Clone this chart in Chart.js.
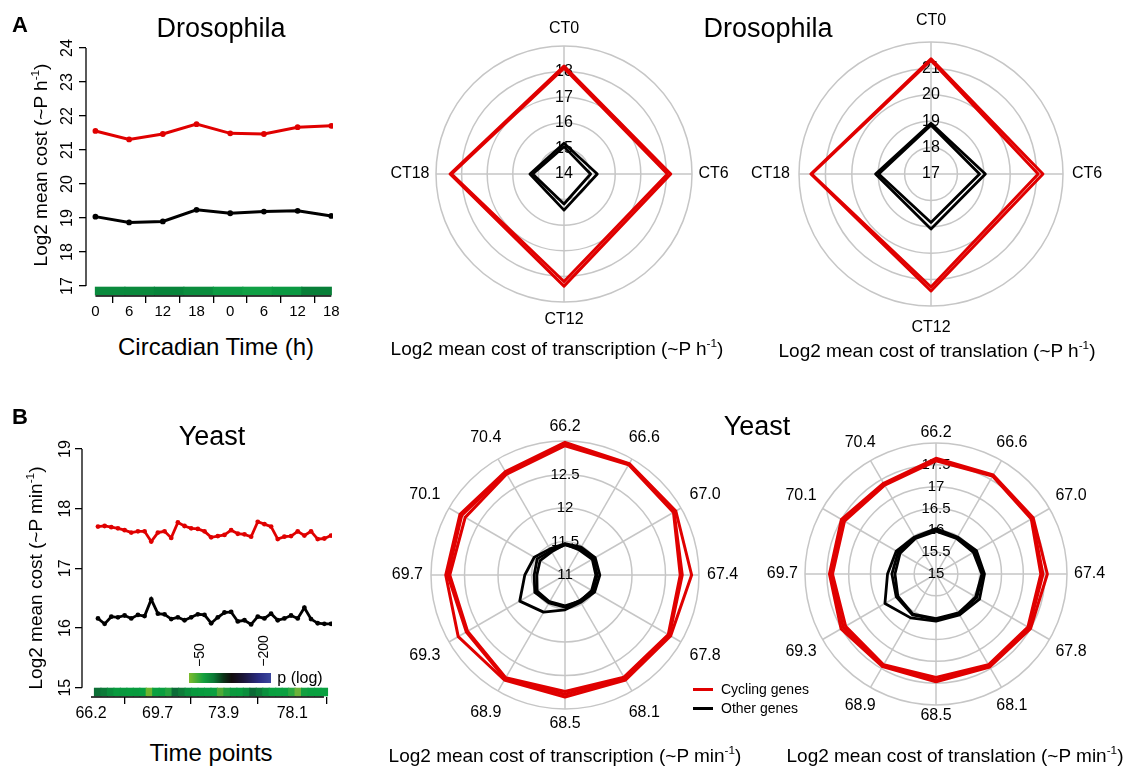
<!DOCTYPE html>
<html>
<head>
<meta charset="utf-8">
<script src="https://cdn.jsdelivr.net/npm/chart.js@4.4.1/dist/chart.umd.min.js"></script>
<style>
  html, body { margin: 0; padding: 0; background: #fff; }
  #page { position: relative; width: 1127px; height: 766px; overflow: hidden; background: #fff;
          font-family: "Liberation Sans", Arial, Helvetica, sans-serif; color: #000; }
  canvas { position: absolute; }
  .t { position: absolute; line-height: 1; white-space: nowrap; transform: translate(-50%, -50%); }
  .tl { position: absolute; line-height: 1; white-space: nowrap; transform: translate(0, -50%); }
  .rot { transform: translate(-50%, -50%) rotate(-90deg); }
  sup { font-size: 0.62em; vertical-align: 0.6em; line-height: 0; }
</style>
</head>
<body>
<div id="page">
  <div class="t" style="left:20px;top:25px;font-size:22px;font-weight:bold">A</div>
  <div class="t" style="left:221px;top:28px;font-size:27px">Drosophila</div>
  <div class="t" style="left:768px;top:28px;font-size:27px">Drosophila</div>
  <div class="t rot" style="left:40px;top:165px;font-size:19px">Log2 mean cost (~P h<sup>-1</sup>)</div>
  <div class="t" style="left:216px;top:347px;font-size:24px">Circadian Time (h)</div>
  <div class="t" style="left:557px;top:348px;font-size:19px">Log2 mean cost of transcription (~P h<sup>-1</sup>)</div>
  <div class="t" style="left:937px;top:350px;font-size:19px">Log2 mean cost of translation (~P h<sup>-1</sup>)</div>

  <div class="t" style="left:20px;top:417px;font-size:22px;font-weight:bold">B</div>
  <div class="t" style="left:212px;top:436px;font-size:27px">Yeast</div>
  <div class="t" style="left:757px;top:426px;font-size:27px">Yeast</div>
  <div class="t rot" style="left:35px;top:578px;font-size:19px">Log2 mean cost (~P min<sup>-1</sup>)</div>
  <div class="t" style="left:211px;top:753px;font-size:24px">Time points</div>
  <div class="t" style="left:565px;top:755px;font-size:19px">Log2 mean cost of transcription (~P min<sup>-1</sup>)</div>
  <div class="t" style="left:955px;top:755px;font-size:19px">Log2 mean cost of translation (~P min<sup>-1</sup>)</div>

  <!-- p-value colour key -->
  <div style="position:absolute;left:189px;top:673px;width:82px;height:10px;
       background:linear-gradient(to right,#7dbb2d 0%,#13a03e 18%,#0b7a35 30%,#0c3418 42%,#120d0d 52%,#1b1538 66%,#2a2c82 85%,#3a469e 100%)"></div>
  <div class="t rot" style="left:199px;top:655px;font-size:14px">−50</div>
  <div class="t rot" style="left:263px;top:651px;font-size:14px">−200</div>
  <div class="t" style="left:300px;top:678px;font-size:16px">p (log)</div>

  <!-- legend -->
  <div style="position:absolute;left:693px;top:688px;width:20px;height:3px;background:#e00000"></div>
  <div class="tl" style="left:721px;top:689px;font-size:14px">Cycling genes</div>
  <div style="position:absolute;left:693px;top:707px;width:20px;height:3px;background:#000"></div>
  <div class="tl" style="left:721px;top:708px;font-size:14px">Other genes</div>
</div>

<script>
// --- Drosophila: série temporal ---
const drosoTimeLabels = ['0', '6', '12', '18', '0', '6', '12', '18'];
const drosoCycling = [21.56, 21.31, 21.47, 21.76, 21.49, 21.47, 21.67, 21.71];
const drosoOther = [19.04, 18.87, 18.90, 19.24, 19.14, 19.19, 19.21, 19.06];
const drosoYTicks = [17, 18, 19, 20, 21, 22, 23, 24];
const drosoBand = ['#0a8a3d', '#0a893c', '#07843a', '#0a8c3d', '#0c9a42', '#10a045', '#0b9942', '#087f38'];

// --- Drosophila: radares (CT0, CT6, CT12, CT18) ---
const drosoSpokes = ['CT0', 'CT6', 'CT12', 'CT18'];
const drosoTxCycling = [[18.22, 18.17, 18.38, 18.45], [18.13, 18.04, 18.20, 18.39]];
const drosoTxOther = [[15.20, 15.30, 15.41, 15.33], [15.07, 15.04, 15.17, 15.22]];
const drosoTxRingLabels = ['14', '15', '16', '17', '18'];
const drosoTlCycling = [[21.36, 21.24, 21.43, 21.55], [21.30, 21.06, 21.28, 21.52]];
const drosoTlOther = [[18.92, 19.06, 19.08, 19.10], [18.85, 18.84, 18.84, 18.98]];
const drosoTlRingLabels = ['17', '18', '19', '20', '21'];

// --- Levedura: série temporal (36 pontos) ---
const yeastCycling = [17.70, 17.71, 17.69, 17.67, 17.64, 17.60, 17.62, 17.62, 17.45, 17.60, 17.62, 17.51,
                      17.77, 17.71, 17.67, 17.66, 17.62, 17.52, 17.54, 17.56, 17.64, 17.58, 17.57, 17.53,
                      17.78, 17.74, 17.70, 17.49, 17.53, 17.54, 17.62, 17.55, 17.62, 17.49, 17.50, 17.55];
const yeastOther = [16.16, 16.07, 16.19, 16.18, 16.21, 16.16, 16.22, 16.20, 16.48, 16.24, 16.23, 16.15,
                    16.18, 16.13, 16.18, 16.23, 16.22, 16.08, 16.18, 16.26, 16.27, 16.11, 16.13, 16.06,
                    16.19, 16.16, 16.24, 16.13, 16.16, 16.21, 16.16, 16.34, 16.15, 16.08, 16.07, 16.07];
const yeastYTicks = [15, 16, 17, 18, 19];
const yeastTickLabels = ['66.2', '69.7', '73.9', '78.1'];
const yeastTickAt = [0, 10.3, 20.5, 31.1];
const yeastBand = ['#0d6f36', '#0c7a38', '#0a8c3c', '#089a3e', '#09983e', '#079c3e', '#089a3e', '#07a040', '#6db52f',
                   '#0aa040', '#0a9e3f', '#25a33f', '#0b6c37', '#0e7c39', '#0a8f3d', '#089a3e', '#089c3f', '#0a9e40',
                   '#0aa040', '#4eab37', '#22a03e', '#0b9a3e', '#089c3e', '#0a8e3c', '#0b6a35', '#0c7b38', '#0a903d',
                   '#09a040', '#0aa141', '#0aa040', '#2aa840', '#6ab23a', '#12a040', '#0aa040', '#09a140', '#0aa040'];

// --- Levedura: radares (12 tempos) ---
const yeastSpokes = ['66.2', '66.6', '67.0', '67.4', '67.8', '68.1', '68.5', '68.9', '69.3', '69.7', '70.1', '70.4'];
const yeastTxCycling = [
  [12.98, 12.92, 12.91, 12.89, 12.82, 12.81, 12.82, 12.81, 12.84, 12.78, 12.81, 12.78],
  [12.95, 12.91, 12.88, 12.75, 12.80, 12.78, 12.78, 12.79, 12.70, 12.75, 12.78, 12.76],
  [12.93, 12.90, 12.87, 12.72, 12.78, 12.76, 12.74, 12.77, 12.68, 12.72, 12.72, 12.74]];
const yeastTxOther = [
  [11.47, 11.48, 11.52, 11.52, 11.51, 11.47, 11.52, 11.64, 11.78, 11.60, 11.53, 11.45],
  [11.45, 11.45, 11.49, 11.48, 11.48, 11.44, 11.48, 11.48, 11.52, 11.46, 11.48, 11.42],
  [11.46, 11.43, 11.47, 11.46, 11.46, 11.45, 11.46, 11.46, 11.48, 11.42, 11.43, 11.40]];
const yeastTxRingLabels = ['11', '11.5', '12', '12.5'];
const yeastTlCycling = [
  [17.65, 17.62, 17.57, 17.55, 17.50, 17.46, 17.47, 17.45, 17.51, 17.44, 17.50, 17.40],
  [17.62, 17.60, 17.54, 17.45, 17.46, 17.43, 17.43, 17.42, 17.45, 17.41, 17.46, 17.38],
  [17.59, 17.59, 17.52, 17.40, 17.43, 17.40, 17.37, 17.40, 17.39, 17.37, 17.42, 17.35]];
const yeastTlOther = [
  [16.04, 15.98, 16.07, 16.11, 16.15, 16.08, 16.08, 16.16, 16.35, 16.11, 16.05, 15.98],
  [16.00, 15.96, 16.02, 16.07, 16.08, 16.05, 16.04, 16.08, 16.05, 16.01, 16.00, 15.96],
  [15.98, 15.94, 15.99, 16.05, 16.05, 16.03, 16.02, 16.06, 16.01, 15.94, 15.95, 15.94]];
const yeastTlRingLabels = ['15', '15.5', '16', '16.5', '17', '17.5'];

const FONT = '"Liberation Sans", Arial, Helvetica, sans-serif';
const RED = '#e00000';
const BLACK = '#000000';
const GRID = '#c6c6c6';
Chart.defaults.font.family = FONT;
Chart.defaults.color = '#000';

function addCanvas(left, top, w, h) {
    const c = document.createElement('canvas');
    c.width = w;
    c.height = h;
    c.style.left = left + 'px';
    c.style.top = top + 'px';
    c.style.width = w + 'px';
    c.style.height = h + 'px';
    document.getElementById('page').insertBefore(c, document.getElementById('page').firstChild);
    return c;
}

// eixos no estilo R: linha só entre o primeiro e o último tick, rótulos do y girados
const rAxes = {
    id: 'rAxes',
    afterDraw(chart, args, o) {
        const ctx = chart.ctx;
        const ys = chart.scales.y;
        const xs = chart.scales[o.xAxis];
        const left = chart.chartArea.left;
        const bottom = chart.chartArea.bottom;
        ctx.save();
        ctx.strokeStyle = '#000';
        ctx.lineWidth = 1.3;
        ctx.beginPath();
        ctx.moveTo(left, ys.getPixelForValue(o.yTicks[0]));
        ctx.lineTo(left, ys.getPixelForValue(o.yTicks[o.yTicks.length - 1]));
        ctx.stroke();
        ctx.beginPath();
        ctx.moveTo(xs.getPixelForValue(o.xFrom), bottom);
        ctx.lineTo(xs.getPixelForValue(o.xTo), bottom);
        ctx.stroke();
        ctx.font = o.tickFont + 'px ' + FONT;
        ctx.fillStyle = '#000';
        ctx.textAlign = 'center';
        ctx.textBaseline = 'middle';
        o.yTicks.forEach(v => {
            ctx.save();
            ctx.translate(left - o.labelGap, ys.getPixelForValue(v));
            ctx.rotate(-Math.PI / 2);
            ctx.fillText(String(v), 0, 0);
            ctx.restore();
        });
        ctx.restore();
    }
};

function lineSet(values, color, width, radius, xAxisID) {
    return {
        type: 'line',
        data: values.map((v, i) => ({ x: i, y: v })),
        xAxisID: xAxisID,
        yAxisID: 'y',
        borderColor: color,
        backgroundColor: color,
        borderWidth: width,
        pointRadius: radius,
        pointBorderWidth: 0,
        pointBackgroundColor: color,
        tension: 0
    };
}

function tickGrid(len) {
    return { drawOnChartArea: false, drawTicks: true, tickLength: len, color: '#000', lineWidth: 1.3 };
}

// --- Painel A: linhas ---
new Chart(addCanvas(0, 0, 360, 330), {
    type: 'line',
    data: {
        datasets: [
            lineSet(drosoCycling, RED, 3, 2.9, 'x'),
            lineSet(drosoOther, BLACK, 3, 2.9, 'x'),
            {
                type: 'bar',
                xAxisID: 'x',
                yAxisID: 'y',
                data: drosoBand.map((c, i) => ({ x: (i + 0.5) * (drosoCycling.length - 1) / drosoBand.length, y: [16.735, 16.97] })),
                backgroundColor: drosoBand,
                borderWidth: 0,
                barThickness: 30
            }
        ]
    },
    options: {
        responsive: false,
        animation: false,
        layout: { padding: { left: 0, top: 48, right: 27, bottom: 0 } },
        plugins: {
            legend: { display: false },
            tooltip: { enabled: false },
            rAxes: { xAxis: 'x', yTicks: drosoYTicks, xFrom: 0, xTo: drosoCycling.length - 1, tickFont: 16, labelGap: 18 }
        },
        scales: {
            x: {
                type: 'linear', min: -0.28, max: 7.05, offset: false,
                afterBuildTicks: s => { s.ticks = drosoTimeLabels.map((t, i) => ({ value: i })); },
                afterFit: s => { s.height = 34; },
                ticks: { autoSkip: false, maxRotation: 0, padding: 0, font: { size: 15 },
                         callback: (v, i) => drosoTimeLabels[i] },
                grid: tickGrid(7),
                border: { display: false }
            },
            y: {
                type: 'linear', min: 16.706, max: 24,
                afterBuildTicks: s => { s.ticks = drosoYTicks.map(v => ({ value: v })); },
                afterFit: s => { s.width = 86; },
                ticks: { display: false },
                grid: tickGrid(7),
                border: { display: false }
            }
        }
    },
    plugins: [rAxes]
});

// --- Painel B: linhas ---
new Chart(addCanvas(0, 400, 360, 330), {
    type: 'line',
    data: {
        datasets: [
            lineSet(yeastCycling, RED, 2.8, 2.4, 'x'),
            lineSet(yeastOther, BLACK, 2.8, 2.4, 'x'),
            {
                type: 'bar',
                xAxisID: 'xc',
                yAxisID: 'y',
                data: yeastBand.map((c, i) => ({ x: i + 0.5, y: [14.861, 14.994] })),
                backgroundColor: yeastBand,
                borderWidth: 0,
                barThickness: 7
            }
        ]
    },
    options: {
        responsive: false,
        animation: false,
        layout: { padding: { left: 0, top: 49, right: 28, bottom: 0 } },
        plugins: {
            legend: { display: false },
            tooltip: { enabled: false },
            rAxes: { xAxis: 'xc', yTicks: yeastYTicks, xFrom: 0, xTo: yeastBand.length, tickFont: 16, labelGap: 16 }
        },
        scales: {
            x: { type: 'linear', display: false, min: -2.40, max: 35.15 },
            xc: {
                type: 'linear', position: 'bottom', min: -1.39, max: 37.24, offset: false,
                afterBuildTicks: s => { s.ticks = yeastTickAt.map(v => ({ value: v })); },
                afterFit: s => { s.height = 33; },
                ticks: { autoSkip: false, maxRotation: 0, padding: 0, font: { size: 16 },
                         callback: (v, i) => yeastTickLabels[i] },
                grid: tickGrid(7),
                border: { display: false }
            },
            y: {
                type: 'linear', min: 14.844, max: 19,
                afterBuildTicks: s => { s.ticks = yeastYTicks.map(v => ({ value: v })); },
                afterFit: s => { s.width = 82; },
                ticks: { display: false },
                grid: tickGrid(7),
                border: { display: false }
            }
        }
    },
    plugins: [rAxes]
});

// rótulos dos anéis e dos raios dos radares
const radarText = {
    id: 'radarText',
    beforeDatasetsDraw(chart, args, o) {
        const s = chart.scales.r;
        const ctx = chart.ctx;
        ctx.save();
        ctx.font = o.ringFont + 'px ' + FONT;
        ctx.fillStyle = '#000';
        ctx.textAlign = 'center';
        ctx.textBaseline = 'middle';
        o.ringLabels.forEach(t => {
            ctx.fillText(t, s.xCenter, s.yCenter - s.getDistanceFromCenterForValue(parseFloat(t)));
        });
        ctx.restore();
    },
    afterDatasetsDraw(chart, args, o) {
        const s = chart.scales.r;
        const ctx = chart.ctx;
        ctx.save();
        ctx.font = o.spokeFont + 'px ' + FONT;
        ctx.fillStyle = '#000';
        ctx.textAlign = 'center';
        ctx.textBaseline = 'middle';
        chart.data.labels.forEach((lab, i) => {
            const w = ctx.measureText(lab).width;
            const h = o.spokeFont * 0.72;
            const a = s.getPointPosition(i, 0).angle;
            const ax = Math.abs(Math.cos(a));
            const ay = Math.abs(Math.sin(a));
            const d = s.drawingArea + o.padH * ax + o.padV * ay + ax * w / 2 + ay * h / 2;
            const p = s.getPointPosition(i, d);
            ctx.fillText(lab, p.x, p.y);
        });
        ctx.restore();
    }
};

function radarChart(cx, cy, r, m, cfg) {
    const datasets = [];
    cfg.cycling.forEach(d => datasets.push({ data: d, borderColor: RED, borderWidth: 3 }));
    cfg.other.forEach(d => datasets.push({ data: d, borderColor: BLACK, borderWidth: 2.8 }));
    return new Chart(addCanvas(cx - r - m, cy - r - m, 2 * (r + m), 2 * (r + m)), {
        type: 'radar',
        data: { labels: cfg.spokes, datasets: datasets },
        options: {
            responsive: false,
            animation: false,
            layout: { padding: m },
            plugins: {
                legend: { display: false },
                tooltip: { enabled: false },
                radarText: { ringLabels: cfg.ringLabels, ringFont: cfg.ringFont, spokeFont: cfg.spokeFont,
                             padH: cfg.padH, padV: cfg.padV }
            },
            elements: {
                line: { tension: 0, fill: false, borderJoinStyle: 'round', backgroundColor: 'rgba(0,0,0,0)' },
                point: { radius: 0, hitRadius: 0 }
            },
            scales: {
                r: {
                    min: cfg.min, max: cfg.max,
                    ticks: { display: false, stepSize: cfg.step },
                    pointLabels: { display: false },
                    grid: { circular: true, color: GRID, lineWidth: 1.5 },
                    angleLines: { color: GRID, lineWidth: 1.5 }
                }
            }
        },
        plugins: [radarText]
    });
}

radarChart(564, 174, 128, 46, {
    spokes: drosoSpokes, cycling: drosoTxCycling, other: drosoTxOther, ringLabels: drosoTxRingLabels,
    min: 14, max: 19, step: 1, ringFont: 16, spokeFont: 16, padH: 6.5, padV: 11.5
});
radarChart(931, 174, 132, 56, {
    spokes: drosoSpokes, cycling: drosoTlCycling, other: drosoTlOther, ringLabels: drosoTlRingLabels,
    min: 17, max: 22, step: 1, ringFont: 16, spokeFont: 16, padH: 9, padV: 15.5
});
radarChart(565, 575, 134, 50, {
    spokes: yeastSpokes, cycling: yeastTxCycling, other: yeastTxOther, ringLabels: yeastTxRingLabels,
    min: 11, max: 13, step: 0.5, ringFont: 15, spokeFont: 16, padH: 8, padV: 9
});
radarChart(936, 574, 131, 50, {
    spokes: yeastSpokes, cycling: yeastTlCycling, other: yeastTlOther, ringLabels: yeastTlRingLabels,
    min: 15, max: 18, step: 0.5, ringFont: 15, spokeFont: 16, padH: 7, padV: 5
});
</script>
</body>
</html>
